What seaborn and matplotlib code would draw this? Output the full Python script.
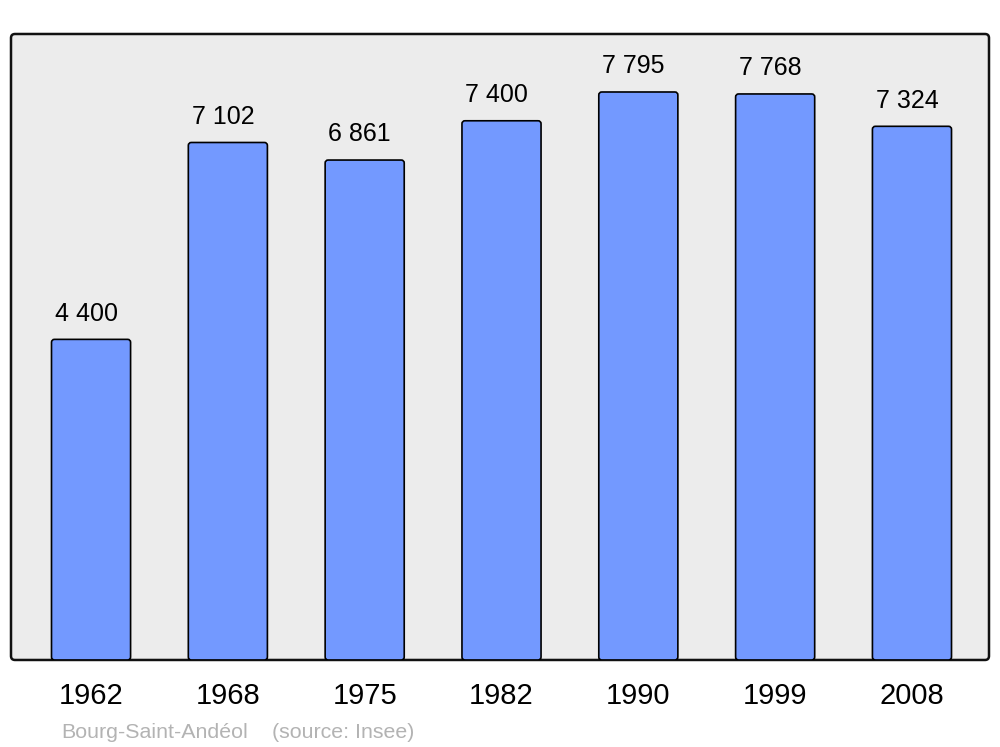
import matplotlib.pyplot as plt
import numpy as np
import seaborn as sns
from matplotlib.patches import FancyBboxPatch

years = ["1962", "1968", "1975", "1982", "1990", "1999", "2008"]
population = [4400, 7102, 6861, 7400, 7795, 7768, 7324]
commune = "Bourg-Saint-Andéol"
source = "(source: Insee)"

sns.set_theme(style="white")
plt.rcParams["font.family"] = ["Liberation Sans", "DejaVu Sans"]

fig = plt.figure(figsize=(10, 7.47), dpi=100)
ax = fig.add_axes([0.011, 0.1165, 0.978, 0.838])
ax.set_facecolor("none")

sns.barplot(x=years, y=population, color="#7399ff", saturation=1, width=0.578,
            edgecolor="black", linewidth=1.2, ax=ax, zorder=3)

ax.set_xlim(-0.585, 6.563)
ax.set_ylim(0, 8591)

# swap plain rectangles for slightly rounded ones
px_x = 978 / (6.563 + 0.585)
px_y = 626 / 8591
for bar in list(ax.patches):
    x, y = bar.get_x(), bar.get_y()
    w, h = bar.get_width(), bar.get_height()
    r = 3 / px_x
    rb = FancyBboxPatch((x, y), w, h, boxstyle=f"round,pad=0,rounding_size={r}",
                        mutation_aspect=(px_x / px_y), facecolor=bar.get_facecolor(),
                        edgecolor="black", linewidth=1.2, zorder=3)
    bar.remove()
    ax.add_patch(rb)

for i, v in enumerate(population):
    label = f"{v:,}".replace(",", " ")
    ax.annotate(label, (i, v), xytext=(-3.6, 13.5), textcoords="offset points",
                ha="center", va="baseline", fontsize=18, color="black")

# rounded frame with grey fill
for s in ax.spines.values():
    s.set_visible(False)
frame = FancyBboxPatch((0, 0), 1, 1, boxstyle=f"round,pad=0,rounding_size={4/978}",
                       mutation_aspect=978 / 626, transform=ax.transAxes,
                       facecolor="#ececec", edgecolor="#111111", linewidth=1.8,
                       clip_on=False, zorder=0)
ax.add_patch(frame)

ax.set_yticks([])
ax.tick_params(axis="x", length=0, pad=16, labelsize=21, labelcolor="black")
ax.set_xlabel("")
ax.set_ylabel("")

fig.text(0.061, 0.012, commune, fontsize=15.4, color="#b3b3b3", ha="left", va="baseline")
fig.text(0.272, 0.012, source, fontsize=15.4, color="#b3b3b3", ha="left", va="baseline")

fig.savefig("out.png", dpi=100, facecolor="white")
